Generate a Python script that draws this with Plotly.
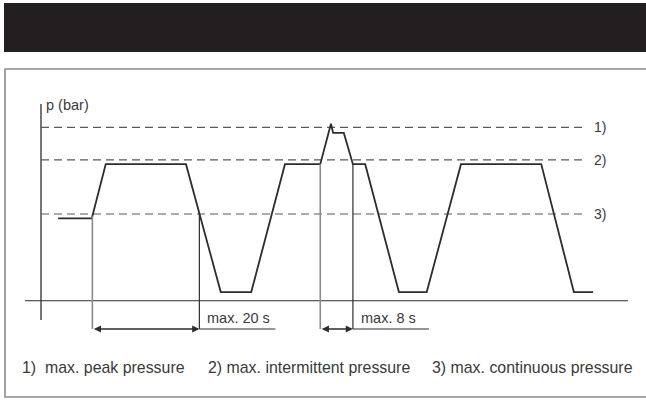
import numpy as np
import plotly.graph_objects as go

# ---- data (schematic pressure cycle) ----
time_s = [3.2, 9.5, 12.1, 27.1, 33.6, 39.3, 45.6, 52.2, 54.2, 54.6, 56.6, 58.3,
          60.6, 66.9, 72.1, 78.5, 93.5, 99.6, 103.2]
pressure_bar = [190, 190, 315, 315, 20, 20, 315, 315, 408, 387, 387, 315,
                315, 20, 20, 315, 315, 20, 20]

level_names = ["1)", "2)", "3)"]
level_values = [400, 325, 200]          # peak, intermittent, continuous

window_20s = [9.6, 29.6]
window_20s_label = "max. 20 s"
window_8s = [52.2, 58.3]
window_8s_label = "max. 8 s"

legend_texts = ["1)&nbsp;&nbsp;max. peak pressure", "2) max. intermittent pressure",
                "3) max. continuous pressure"]
axis_label = "p (bar)"

# ---- scale (1 s = 5.35 px, 1 bar = 1/2.3068 px) ----
W, H = 646, 400
PX_PER_S = 5.35
BAR_PER_PX = 2.3068
X0_PX, Y0_PX = 41, 300.7
x_range = [(0 - X0_PX) / PX_PER_S, (W - X0_PX) / PX_PER_S]
y_range = [(Y0_PX - H) * BAR_PER_PX, (Y0_PX - 0) * BAR_PER_PX]

AXIS_TOP = 454
AXIS_BOTTOM = -44.5
BASE_LEFT, BASE_RIGHT = -3.0, 109.7
DASH_END = 101.4
ARROW_Y = -65.3
TAIL_LEN = 14.2

dark = "#2d2d2d"
grey = "#8c8c8c"
txt = "#3a3a3a"
FONT = "Liberation Sans, Arial, sans-serif"

fig = go.Figure()

# y axis and baseline
fig.add_trace(go.Scatter(x=[0, 0], y=[AXIS_BOTTOM, AXIS_TOP], mode="lines",
                         line=dict(color=dark, width=1.3), hoverinfo="skip"))
fig.add_trace(go.Scatter(x=[BASE_LEFT, BASE_RIGHT], y=[0, 0], mode="lines",
                         line=dict(color=dark, width=1.1), hoverinfo="skip"))

# dashed limit levels
for name, v in zip(level_names, level_values):
    fig.add_trace(go.Scatter(x=[0, DASH_END], y=[v, v], mode="lines",
                             line=dict(color="#5a5a5a", width=1.2, dash="8px,5px"),
                             hoverinfo="skip"))
    fig.add_annotation(x=DASH_END, y=v, text=name, showarrow=False,
                       xanchor="left", yanchor="middle", xshift=9,
                       font=dict(family=FONT, size=14, color=txt))

# pressure curve
fig.add_trace(go.Scatter(x=time_s, y=pressure_bar, mode="lines",
                         line=dict(color=dark, width=1.8), hoverinfo="skip"))

# time windows
for win, label in [(window_20s, window_20s_label), (window_8s, window_8s_label)]:
    t0, t1 = win
    p0 = float(np.interp(t0, time_s, pressure_bar))
    p1 = float(np.interp(t1, time_s, pressure_bar))
    fig.add_trace(go.Scatter(x=[t0, t0], y=[p0, ARROW_Y], mode="lines",
                             line=dict(color=grey, width=1.6), hoverinfo="skip"))
    fig.add_trace(go.Scatter(x=[t1, t1], y=[p1, ARROW_Y], mode="lines",
                             line=dict(color=dark, width=1.2), hoverinfo="skip"))
    fig.add_trace(go.Scatter(x=[t1, t1 + TAIL_LEN], y=[ARROW_Y, ARROW_Y], mode="lines",
                             line=dict(color=dark, width=1.2), hoverinfo="skip"))
    fig.add_annotation(x=t1, y=ARROW_Y, ax=t0, ay=ARROW_Y, xref="x", yref="y",
                       axref="x", ayref="y", text="", showarrow=True,
                       arrowhead=2, arrowside="end+start", arrowsize=1.1,
                       arrowwidth=1.3, arrowcolor=dark, standoff=0, startstandoff=0)
    fig.add_annotation(x=t1, y=ARROW_Y, text=label, showarrow=False,
                       xanchor="left", yanchor="bottom", xshift=6, yshift=1,
                       font=dict(family=FONT, size=14.5, color=txt))

# axis label
fig.add_annotation(x=0, y=AXIS_TOP, text=axis_label, showarrow=False,
                   xanchor="left", yanchor="middle", xshift=3, yshift=-1,
                   font=dict(family=FONT, size=14.5, color=txt))

# legend line
for t, xp in zip(legend_texts, [19.5, 205.7, 430]):
    fig.add_annotation(x=xp / W, y=1 - 367 / H, xref="paper", yref="paper",
                       text=t, showarrow=False,
                       xanchor="left", yanchor="middle",
                       font=dict(family=FONT, size=15.9, color=txt))

# header bar and frame
fig.add_shape(type="rect", xref="paper", yref="paper",
              x0=4 / W, x1=1.01, y0=1 - 52 / H, y1=1 - 3 / H,
              fillcolor="#231f20", line=dict(width=0), layer="below")
fig.add_shape(type="rect", xref="paper", yref="paper",
              x0=5 / W, x1=1.02, y0=1 - 397 / H, y1=1 - 69 / H,
              fillcolor="rgba(0,0,0,0)", line=dict(color="#8a8a8a", width=1.6))

fig.update_layout(width=W, height=H, margin=dict(l=0, r=0, t=0, b=0),
                  paper_bgcolor="white", plot_bgcolor="white", showlegend=False,
                  xaxis=dict(range=x_range, visible=False, fixedrange=True),
                  yaxis=dict(range=y_range, visible=False, fixedrange=True))

fig.write_html("out.html", config={"displayModeBar": False},
               post_script="document.body.style.margin='0';document.body.style.overflow='hidden';")
